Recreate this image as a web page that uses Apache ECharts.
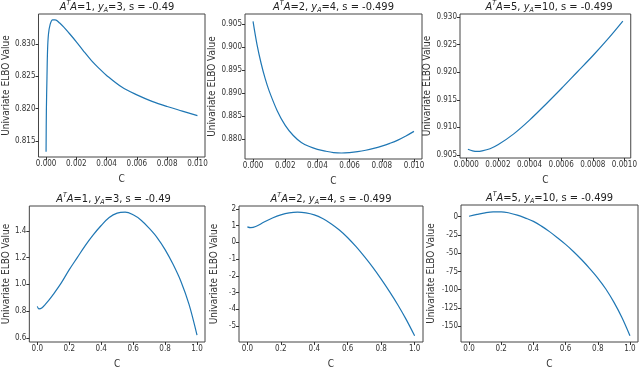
<!DOCTYPE html>
<html>
<head>
<meta charset="UTF-8">
<title>Univariate ELBO</title>
<script src="https://cdn.jsdelivr.net/npm/echarts@6/dist/echarts.min.js"></script>
<style>
  html, body { margin: 0; padding: 0; background: #fff; }
  #chart { width: 640px; height: 370px; }
</style>
</head>
<body>
<div id="chart"></div>
<script>
// panel titles (rich text)
const titles = [
  '{i|A}{sup|T}{i|A}=1, {i|y}{sub|A}=3, s = -0.49',
  '{i|A}{sup|T}{i|A}=2, {i|y}{sub|A}=4, s = -0.499',
  '{i|A}{sup|T}{i|A}=5, {i|y}{sub|A}=10, s = -0.499',
  '{i|A}{sup|T}{i|A}=1, {i|y}{sub|A}=3, s = -0.49',
  '{i|A}{sup|T}{i|A}=2, {i|y}{sub|A}=4, s = -0.499',
  '{i|A}{sup|T}{i|A}=5, {i|y}{sub|A}=10, s = -0.499'
];

// top row: small C
const c1 = [0, 0.00002, 0.00006, 0.0001, 0.00016, 0.00027, 0.00043, 0.0006, 0.0009, 0.0012, 0.0015, 0.002, 0.0025, 0.003, 0.0035, 0.004, 0.005, 0.006, 0.007, 0.008, 0.009, 0.010];
const elbo1 = [0.8133, 0.8196, 0.8248, 0.8291, 0.8315, 0.8330, 0.8337, 0.8337, 0.8332, 0.8325, 0.8317, 0.8303, 0.8288, 0.8274, 0.8262, 0.8251, 0.8233, 0.8221, 0.8211, 0.8203, 0.8196, 0.8189];

const c2 = [0, 0.00025, 0.0005, 0.00075, 0.001, 0.0015, 0.002, 0.0025, 0.003, 0.0035, 0.004, 0.0045, 0.005, 0.0055, 0.006, 0.0065, 0.007, 0.0075, 0.008, 0.0085, 0.009, 0.0095, 0.010];
const elbo2 = [0.9056, 0.9005, 0.8965, 0.8932, 0.8905, 0.8862, 0.8830, 0.8808, 0.8793, 0.8784, 0.8778, 0.8774, 0.8771, 0.8770, 0.8771, 0.8773, 0.8776, 0.8780, 0.8785, 0.8791, 0.8798, 0.8807, 0.8817];

const c3 = [0.00001, 0.00004, 0.00007, 0.0001, 0.00015, 0.0002, 0.0003, 0.0004, 0.0005, 0.0006, 0.0007, 0.0008, 0.0009, 0.00099];
const elbo3 = [0.9060, 0.9057, 0.9056, 0.9057, 0.9061, 0.9068, 0.9088, 0.9113, 0.9141, 0.9170, 0.9200, 0.9230, 0.9262, 0.9293];

// bottom row: C from 0 to 1
const c4 = [0, 0.01, 0.03, 0.05, 0.07, 0.1, 0.15, 0.2, 0.25, 0.3, 0.35, 0.4, 0.45, 0.5, 0.55, 0.6, 0.65, 0.7, 0.75, 0.8, 0.85, 0.9, 0.95, 1.0];
const elbo4 = [0.835, 0.817, 0.825, 0.850, 0.878, 0.925, 1.011, 1.11, 1.20, 1.29, 1.37, 1.44, 1.50, 1.533, 1.54, 1.52, 1.48, 1.42, 1.35, 1.26, 1.15, 1.02, 0.85, 0.62];

const c5 = [0, 0.02, 0.05, 0.1, 0.15, 0.2, 0.25, 0.3, 0.35, 0.4, 0.45, 0.5, 0.55, 0.6, 0.65, 0.7, 0.75, 0.8, 0.85, 0.9, 0.95, 1.0];
const elbo5 = [0.93, 0.88, 0.95, 1.22, 1.46, 1.65, 1.77, 1.81, 1.77, 1.65, 1.43, 1.12, 0.74, 0.28, -0.26, -0.86, -1.50, -2.20, -2.95, -3.75, -4.63, -5.6];

const c6 = [0, 0.05, 0.1, 0.15, 0.2, 0.25, 0.3, 0.35, 0.4, 0.45, 0.5, 0.55, 0.6, 0.65, 0.7, 0.75, 0.8, 0.85, 0.9, 0.95, 1.0];
const elbo6 = [0.5, 3.0, 5.2, 6.5, 6.6, 5.0, 2.0, -2.0, -6.5, -13, -20.5, -29, -38, -48, -59, -71, -84, -99, -117, -138, -163];

// tick labels
const xTicksA = ['0.000', '0.002', '0.004', '0.006', '0.008', '0.010'];
const xTicksB = ['0.0000', '0.0002', '0.0004', '0.0006', '0.0008', '0.0010'];
const xTicksC = ['0.0', '0.2', '0.4', '0.6', '0.8', '1.0'];
const yTicks1 = ['0.815', '0.820', '0.825', '0.830'];
const yTicks2 = ['0.880', '0.885', '0.890', '0.895', '0.900', '0.905'];
const yTicks3 = ['0.905', '0.910', '0.915', '0.920', '0.925', '0.930'];
const yTicks4 = ['0.6', '0.8', '1.0', '1.2', '1.4'];
const yTicks5 = ['-5', '-4', '-3', '-2', '-1', '0', '1', '2'];
const yTicks6 = ['-150', '-125', '-100', '-75', '-50', '-25', '0'];

const FONT = '"Liberation Sans Narrow", "DejaVu Sans Condensed", sans-serif';
const BLUE = '#1f77b4';

// layout of each panel (grid box in px, axis ranges, name gaps)
const panels = [
  { c: c1, v: elbo1, grid: [29, 14, 176, 143], x: [-0.0005, 0.0105], y: [0.8125, 0.8346], xt: xTicksA, yt: yTicks1, gap: 22 },
  { c: c2, v: elbo2, grid: [245, 14, 177, 145], x: [-0.0005, 0.0105], y: [0.8757, 0.9072], xt: xTicksA, yt: yTicks2, gap: 25 },
  { c: c3, v: elbo3, grid: [460, 14, 178, 144], x: [-0.00004, 0.00104], y: [0.90441, 0.93059], xt: xTicksB, yt: yTicks3, gap: 24 },
  { c: c4, v: elbo4, grid: [22, 206, 183, 144], x: [-0.05, 1.05], y: [0.569, 1.586], xt: xTicksC, yt: yTicks4, gap: 18 },
  { c: c5, v: elbo5, grid: [239, 206, 184, 142], x: [-0.05, 1.05], y: [-5.97, 2.18], xt: xTicksC, yt: yTicks5, gap: 20 },
  { c: c6, v: elbo6, grid: [461, 205, 177, 144], x: [-0.05, 1.05], y: [-171.5, 15.9], xt: xTicksC, yt: yTicks6, gap: 25 }
];

function tickAxis(ticks, range) {
  const vals = ticks.map(Number);
  return {
    type: 'value',
    min: range[0],
    max: range[1],
    splitLine: { show: false },
    axisLine: { show: false, onZero: false },
    axisTick: { show: true, inside: false, customValues: vals, length: 3, lineStyle: { color: '#333', width: 1 } },
    axisLabel: {
      customValues: vals,
      fontFamily: FONT, fontSize: 8, color: '#333', margin: 3,
      formatter: v => ticks[vals.findIndex(t => Math.abs(t - v) < 1e-9)] || ''
    }
  };
}

const chart = echarts.init(document.getElementById('chart'));
chart.setOption({
  animation: false,
  title: panels.map((p, i) => ({
    text: titles[i],
    left: p.grid[0] + p.grid[2] / 2,
    top: p.grid[1] - 14,
    textAlign: 'center',
    padding: 0,
    textStyle: {
      fontFamily: FONT, fontSize: 11, color: '#222', fontWeight: 'normal', lineHeight: 14,
      rich: {
        i: { fontFamily: FONT, fontSize: 11, fontStyle: 'italic', color: '#222', lineHeight: 14 },
        sup: { fontFamily: FONT, fontSize: 7, fontStyle: 'italic', color: '#222', verticalAlign: 'top', lineHeight: 9 },
        sub: { fontFamily: FONT, fontSize: 7, fontStyle: 'italic', color: '#222', verticalAlign: 'bottom', lineHeight: 9 }
      }
    }
  })),
  grid: panels.map(p => ({
    left: p.grid[0], top: p.grid[1], width: p.grid[2], height: p.grid[3],
    show: true, borderColor: '#444', borderWidth: 1, backgroundColor: '#fff'
  })),
  xAxis: panels.map((p, i) => Object.assign(tickAxis(p.xt, p.x), {
    gridIndex: i,
    name: 'C', nameLocation: 'middle', nameGap: 17,
    nameTextStyle: { fontFamily: FONT, fontSize: 10, color: '#333' }
  })),
  yAxis: panels.map((p, i) => Object.assign(tickAxis(p.yt, p.y), {
    gridIndex: i,
    name: 'Univariate ELBO Value', nameLocation: 'middle', nameGap: p.gap,
    nameTextStyle: { fontFamily: FONT, fontSize: 10, color: '#333' }
  })),
  series: panels.map((p, i) => ({
    type: 'line',
    xAxisIndex: i,
    yAxisIndex: i,
    data: p.c.map((c, k) => [c, p.v[k]]),
    showSymbol: false,
    smooth: 0.35,
    lineStyle: { color: BLUE, width: 1.2 }
  }))
});
</script>
</body>
</html>
